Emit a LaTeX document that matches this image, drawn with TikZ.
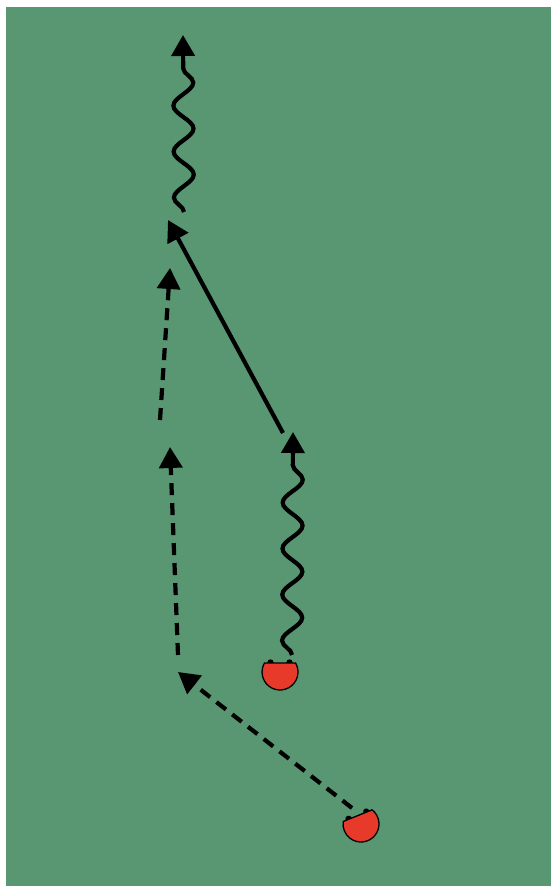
\documentclass[tikz,border=0pt]{standalone}
\usetikzlibrary{arrows.meta,decorations.pathmorphing}
\definecolor{pitch}{RGB}{89,151,115}
\definecolor{pred}{RGB}{232,58,43}
\tikzset{
  line/.style={line width=4.2pt, black},
  tipped/.style={-{Triangle[width=23pt,length=21pt]}},
  passline/.style={line, tipped, dash pattern=on 12pt off 8pt},
  runline/.style={line, tipped},
  dribble/.style={line, tipped, decorate, decoration={snake, segment length=46pt, amplitude=10pt, post length=16pt}},
  player/.pic={
    \fill[black] (-9.5pt,9.5pt) circle (3.2pt) (9.5pt,9.5pt) circle (3.2pt);
    \draw[fill=pred, line width=1.3pt] (30:18pt) arc[start angle=30, end angle=-210, radius=18pt] -- cycle;
  }
}
\begin{document}
\begin{tikzpicture}[x=1pt,y=1pt]
  \useasboundingbox (0,0) rectangle (551,886);
  \fill[white] (0,0) rectangle (551,886);
  \fill[pitch] (6,0) rectangle (551,879);

  % players
  \pic (p1) at (280,214) {player};
  \pic[rotate=22] (p2) at (361,62) {player};

  % named coordinates
  \coordinate (d1s) at (292,231);
  \coordinate (d1e) at (293,454);
  \coordinate (r1s) at (283,453);
  \coordinate (r1e) at (168,666);
  \coordinate (d2s) at (184,674);
  \coordinate (d2e) at (183,851);
  \coordinate (a1s) at (160,466);
  \coordinate (a1e) at (170,618);
  \coordinate (a2s) at (178,231);
  \coordinate (a2e) at (170,439);
  \coordinate (a3s) at (352,78);
  \coordinate (a3e) at (178,214);

  % dribbles
  \draw[dribble] (d1s) -- (d1e);
  \draw[dribble] (d2s) -- (d2e);
  % run
  \draw[runline] (r1s) -- (r1e);
  % passes
  \draw[passline] (a1s) -- (a1e);
  \draw[passline] (a2s) -- (a2e);
  \draw[passline] (a3s) -- (a3e);
\end{tikzpicture}
\end{document}
